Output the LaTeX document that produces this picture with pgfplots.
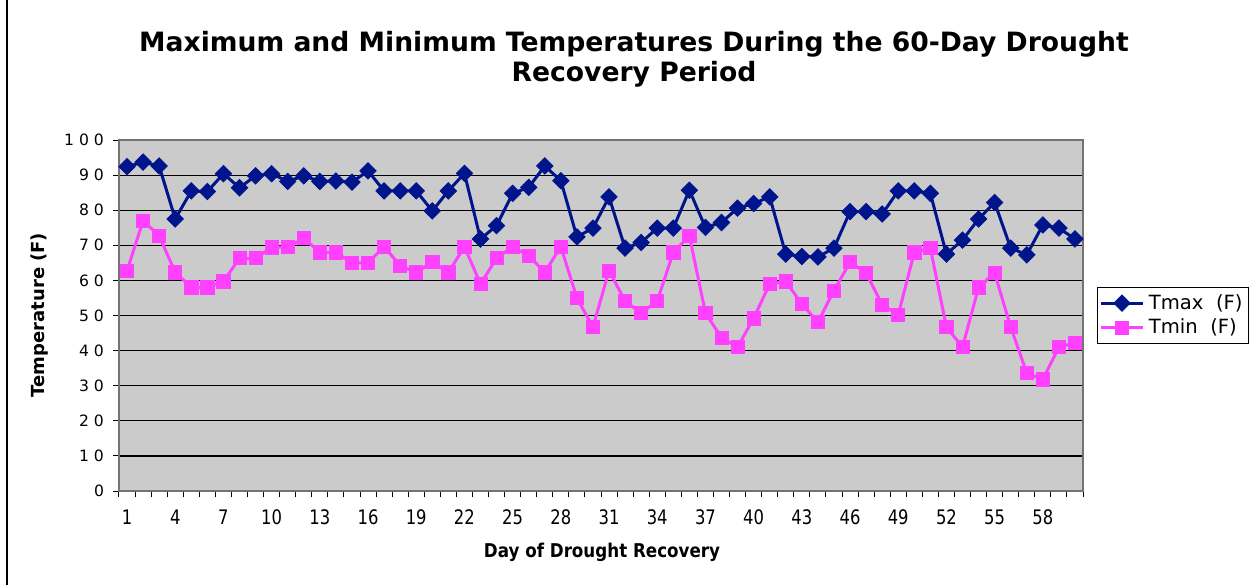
\documentclass[border=0pt]{standalone}
\usepackage{fontspec}
\setmainfont{DejaVu Sans}
\newfontfamily\narrowfont[FakeStretch=0.82]{DejaVu Sans}
\newfontfamily\narrowbold[FakeStretch=0.88]{DejaVu Sans Bold}
\usepackage{pgfplots}
\pgfplotsset{compat=1.18}
\definecolor{tmaxblue}{RGB}{0,20,140}
\definecolor{tminpink}{RGB}{255,64,255}
\definecolor{plotgray}{RGB}{203,203,203}

\pgfplotstableread{
day tmax
1 92.4
2 93.7
3 92.6
4 77.5
5 85.5
6 85.3
7 90.4
8 86.4
9 89.8
10 90.4
11 88.2
12 89.8
13 88.2
14 88.3
15 88.0
16 91.2
17 85.5
18 85.5
19 85.5
20 79.8
21 85.5
22 90.5
23 71.8
24 75.6
25 84.8
26 86.5
27 92.6
28 88.4
29 72.4
30 74.9
31 83.8
32 69.2
33 70.8
34 74.9
35 74.9
36 85.7
37 75.1
38 76.5
39 80.6
40 81.9
41 83.8
42 67.5
43 66.8
44 66.7
45 69.2
46 79.6
47 79.6
48 78.9
49 85.5
50 85.5
51 84.8
52 67.5
53 71.5
54 77.5
55 82.2
56 69.2
57 67.3
58 75.8
59 74.9
60 71.8
}\tmaxdata

\pgfplotstableread{
day tmin
1 62.8
2 77.0
3 72.7
4 62.3
5 58.0
6 58.0
7 59.7
8 66.3
9 66.3
10 69.4
11 69.5
12 72.0
13 68.0
14 68.0
15 65.0
16 65.0
17 69.6
18 64.2
19 62.3
20 65.2
21 62.3
22 69.6
23 59.0
24 66.3
25 69.6
26 67.0
27 62.3
28 69.6
29 55.0
30 46.7
31 62.8
32 54.1
33 50.7
34 54.1
35 68.0
36 72.7
37 50.7
38 43.7
39 41.0
40 49.2
41 59.0
42 59.7
43 53.3
44 48.1
45 57.1
46 65.2
47 62.1
48 53.1
49 50.2
50 68.0
51 69.2
52 46.7
53 41.0
54 58.0
55 62.1
56 46.7
57 33.6
58 31.8
59 41.0
60 42.2
}\tmindata

\begin{document}
\begin{tikzpicture}
\useasboundingbox (0,0) rectangle (630pt,292.5pt);
\draw[black, line width=0.6pt] (3.5pt,0pt) -- (3.5pt,292.5pt);
\begin{axis}[
  at={(59.5pt,47pt)}, anchor=south west,
  scale only axis, width=482pt, height=175.5pt,
  xmin=0.5, xmax=60.5, ymin=0, ymax=100,
  axis background/.style={fill=plotgray},
  axis line style={draw=black!55, line width=1.2pt},
  ytick={0,10,...,100},
  yticklabels={0,1 0,2 0,3 0,4 0,5 0,6 0,7 0,8 0,9 0,1 0 0},
  yticklabel style={font=\fontsize{7.8}{9}\selectfont, xshift=-1pt},
  ymajorgrids,
  grid style={black, line width=0.6pt},
  xtick={0.5,1.5,...,60.5},
  xticklabels={},
  extra x ticks={1,4,7,10,13,16,19,22,25,28,31,34,37,40,43,46,49,52,55,58},
  extra x tick labels={1,4,7,10,13,16,19,22,25,28,31,34,37,40,43,46,49,52,55,58},
  extra x tick style={tick style={draw=none}, grid=none,
     xticklabel style={font=\narrowfont\fontsize{10}{11}\selectfont, yshift=-3pt}},
  xtick pos=lower, ytick pos=left,
  tick align=outside,
  major tick length=3pt,
  tick style={black, line width=0.5pt},
  legend style={at={(1.0145,0.5)}, anchor=west, draw=black, line width=0.5pt,
     font=\fontsize{9.8}{10}\selectfont, fill=white, inner sep=1pt, row sep=-1pt,
     nodes={inner sep=2.2pt}},
  legend cell align=left,
  legend image code/.code={\draw[mark repeat=2,mark phase=2,#1] plot coordinates {(0pt,0pt) (10.5pt,0pt) (21pt,0pt)};},
  clip=false,
]
\addplot[tmaxblue, line width=1.5pt, mark=square*, mark size=2.9pt, mark options={solid, rotate=45, line width=0.4pt}] table[x=day,y=tmax] {\tmaxdata};
\addlegendentry{Tmax\ \ (F)}
\addplot[tminpink, line width=1.5pt, mark=square*, mark size=3.3pt, mark options={solid, line width=0.4pt}] table[x=day,y=tmin] {\tmindata};
\addlegendentry{Tmin\ \ (F)}
\end{axis}
\node[font=\bfseries\fontsize{13.3}{15}\selectfont, align=center] at (317pt,263pt) {Maximum and Minimum Temperatures During the 60-Day Drought\\Recovery Period};
\node[font=\bfseries\fontsize{9}{11}\selectfont, rotate=90] at (20pt,135pt) {Temperature (F)};
\node[font=\narrowbold\fontsize{9.5}{11}\selectfont] at (301pt,16.5pt) {Day of Drought Recovery};
\end{tikzpicture}
\end{document}
